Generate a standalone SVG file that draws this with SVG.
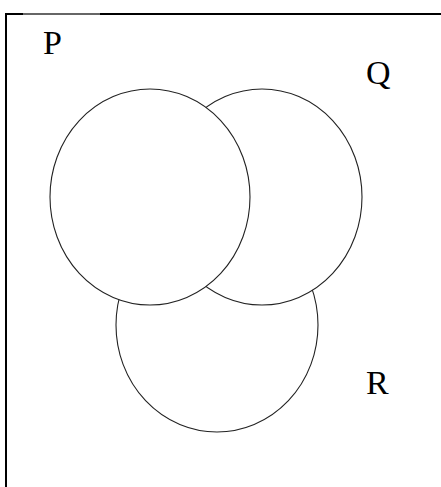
<svg xmlns="http://www.w3.org/2000/svg" width="441" height="487" viewBox="0 0 441 487">
<style>
.frame{stroke:#000;stroke-width:2;fill:none}
.set{fill:#fff;stroke:#222;stroke-width:1.1}
.lbl{font-family:"Liberation Serif","Times New Roman",serif;font-size:34px;fill:#000}
</style>
<rect width="441" height="487" fill="#fff"/>
<g id="frame">
<path class="frame" d="M6,487 V14 H23"/>
<path d="M23,14 H100" stroke="#333" stroke-width="1.4" fill="none"/>
<path class="frame" d="M100,14 H441"/>
</g>
<g id="setR"><ellipse class="set" cx="217" cy="325" rx="101" ry="107"/></g>
<g id="setQ"><ellipse class="set" cx="262" cy="197" rx="100" ry="108"/></g>
<g id="setP"><ellipse class="set" cx="150" cy="197" rx="100" ry="108"/></g>
<g id="labels">
<text class="lbl" x="43" y="54">P</text>
<text class="lbl" x="366" y="84">Q</text>
<text class="lbl" x="366" y="394">R</text>
</g>
</svg>
